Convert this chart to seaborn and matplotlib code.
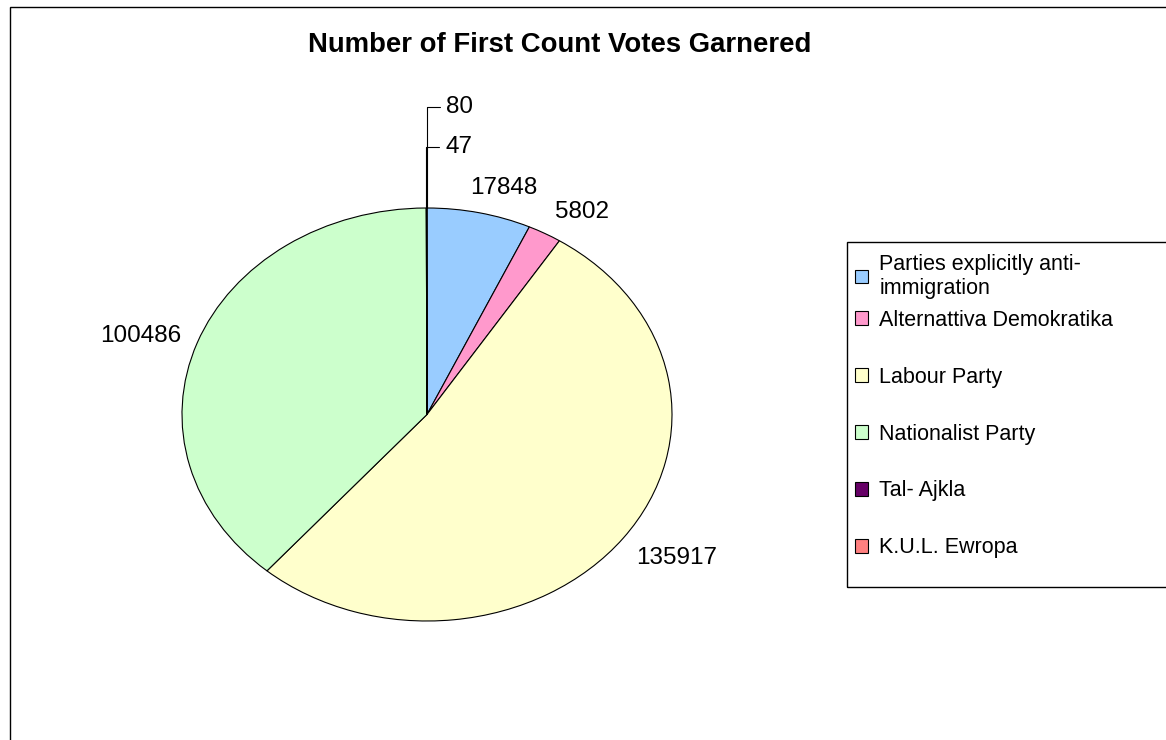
import numpy as np
import matplotlib
matplotlib.use("Agg")
import matplotlib.pyplot as plt
import seaborn as sb
from matplotlib.patches import Rectangle

# data
parties = ['Parties explicitly anti-\nimmigration', 'Alternattiva Demokratika',
           'Labour Party', 'Nationalist Party', 'Tal- Ajkla', 'K.U.L. Ewropa']
votes = [17848, 5802, 135917, 100486, 47, 80]
colors = ['#99CCFF', '#FF99CC', '#FFFFCC', '#CCFFCC', '#660066', '#FF8080']

# label offsets (pixels) from the wedge edge, Excel-style
label_offsets = [(24, 25), (37, 21), (53, -20), (-57, 7), (19, 61), (19, 101)]

sb.set_style('white')
plt.rcParams['font.family'] = ['Liberation Sans', 'DejaVu Sans']
plt.rcParams['text.color'] = 'black'

W, H = 1166, 740
fig = plt.figure(figsize=(W / 100, H / 100), dpi=100)
ax = fig.add_axes([0, 0, 1, 1])

wedges, _ = ax.pie(votes, colors=colors, startangle=90, counterclock=False,
                   wedgeprops=dict(edgecolor='black', linewidth=0.8))

# the original pie is stretched sideways, so no equal aspect
cx, cy, rx, ry = 427, 414.5, 245, 206.5
ax.set_aspect('auto')
ax.set_xlim(-cx / rx, (W - cx) / rx)
ax.set_ylim((cy - H) / ry, cy / ry)
ax.axis('off')

for w, v, (dx, dy) in zip(wedges, votes, label_offsets):
    ang = np.deg2rad((w.theta1 + w.theta2) / 2)
    edge = (np.cos(ang), np.sin(ang))
    if v < 1000:
        ax.annotate(str(v), xy=edge, xytext=(dx, dy), textcoords='offset pixels',
                    ha='left', va='center', fontsize=17.5,
                    arrowprops=dict(arrowstyle='-', color='black', lw=0.8,
                                    connectionstyle='angle,angleA=0,angleB=90,rad=0',
                                    shrinkA=2, shrinkB=0))
    else:
        ax.annotate(str(v), xy=edge, xytext=(dx, dy), textcoords='offset pixels',
                    ha='center', va='center', fontsize=17.5)

fig.text(560 / W, 1 - 45 / H, 'Number of First Count Votes Garnered',
         ha='center', va='center', fontsize=19.8, fontweight='bold')

# chart frame (only left/top visible in the crop)
fig.add_artist(Rectangle((9.5 / W, -0.1), 1.2, 1.1 - 7.5 / H, transform=fig.transFigure,
                         fill=False, edgecolor='black', linewidth=1))

# legend box, then entries: the two-line entry sits tighter in Excel, so two legends
fig.add_artist(Rectangle((846.5 / W, 1 - 587 / H), 0.5, (587 - 242) / H,
                         transform=fig.transFigure, fill=False, edgecolor='black',
                         linewidth=1))
leg_kw = dict(loc='upper left', borderaxespad=0, frameon=False, fontsize=15.5,
              handlelength=0.6, handleheight=0.6, handletextpad=0.55,
              borderpad=0.4, labelspacing=1.67)
leg1 = fig.legend(wedges[:1], parties[:1], bbox_to_anchor=(846 / W, 1 - 245 / H), **leg_kw)
leg1.get_texts()[0].set_linespacing(1.2)
leg2 = fig.legend(wedges[1:], parties[1:], bbox_to_anchor=(846 / W, 1 - 301 / H), **leg_kw)

fig.savefig('out.png', dpi=100)
